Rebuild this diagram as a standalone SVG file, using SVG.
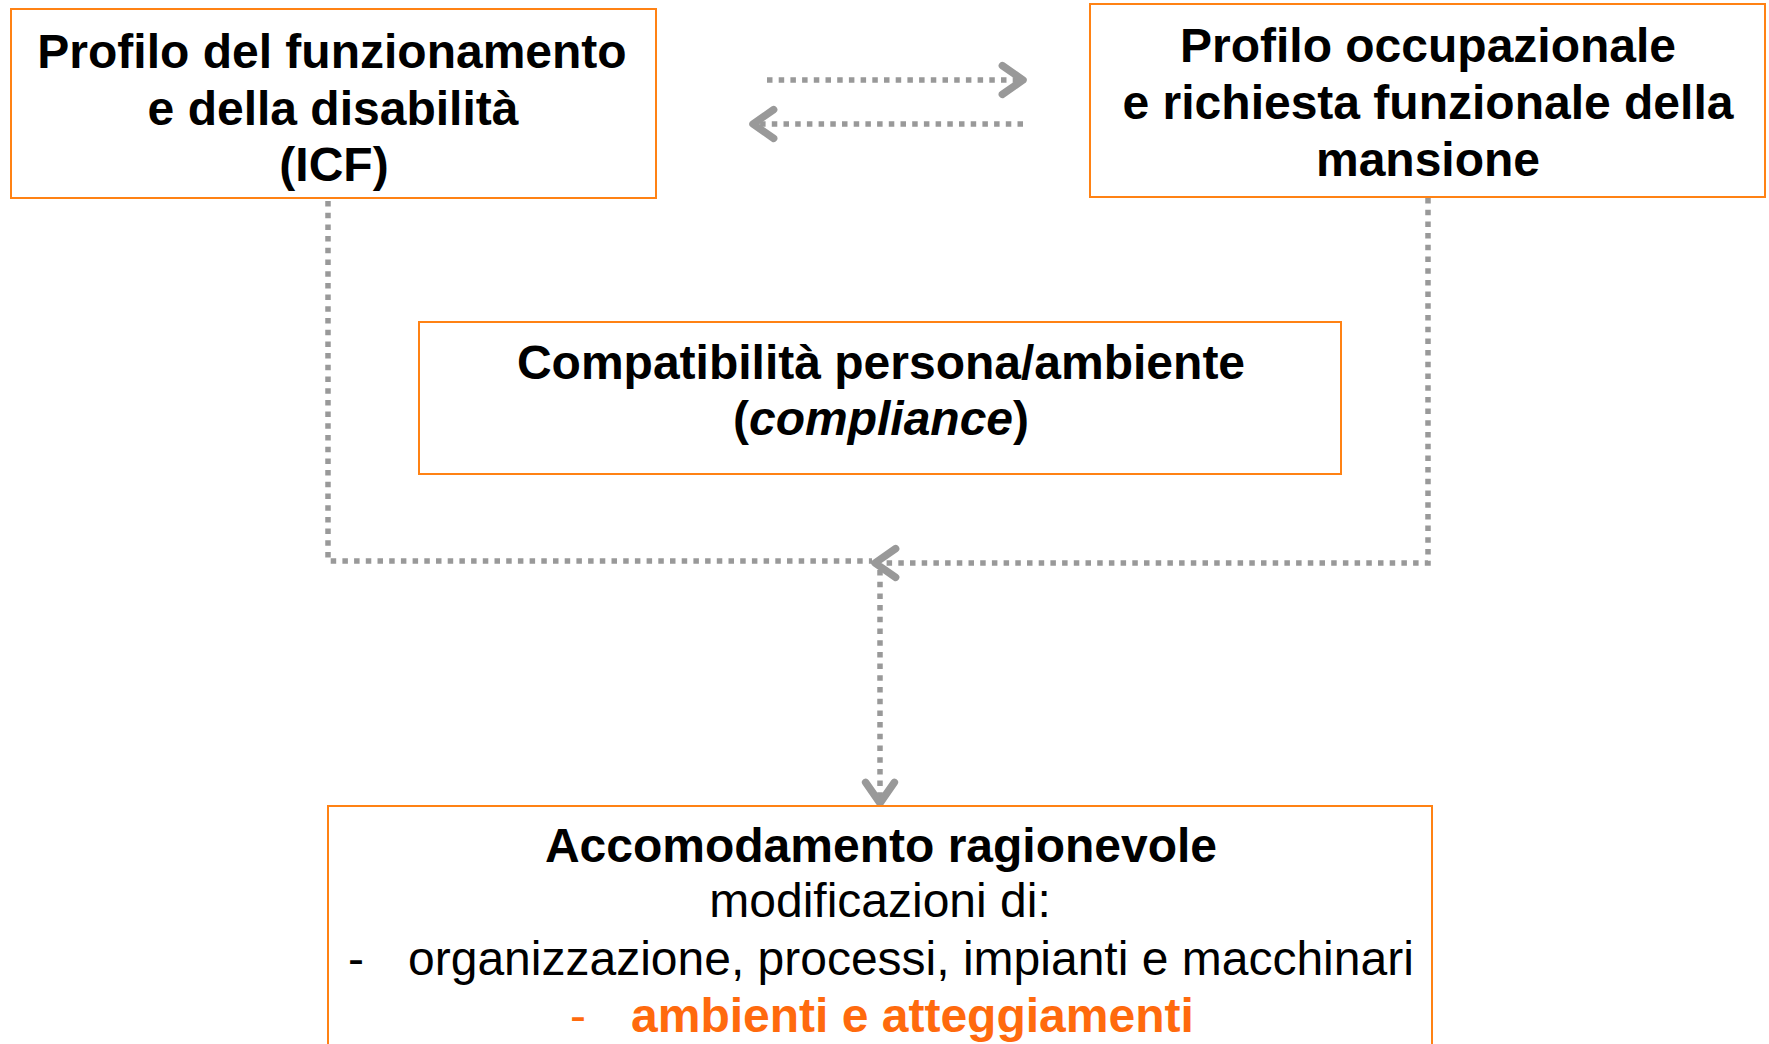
<svg xmlns="http://www.w3.org/2000/svg" width="1769" height="1044" viewBox="0 0 1769 1044">
  <style>
    .box { fill: #ffffff; stroke: #FF8214; stroke-width: 2; }
    .t { font-family: "Liberation Sans", Arial, sans-serif; font-size: 48px; fill: #000000; }
    .b { font-weight: bold; }
    .c { text-anchor: middle; }
    .or { fill: #FF6A0D; }
    .conn { fill: none; stroke: #999999; stroke-width: 5.5; stroke-dasharray: 5.5 6.2; }
  </style>
  <defs>
    <marker id="chev" markerUnits="userSpaceOnUse" markerWidth="40" markerHeight="40" refX="0" refY="0" viewBox="-22 -16 26 32" orient="auto" overflow="visible">
      <path d="M -16.5 -11.5 L 0 0 L -16.5 11.5" fill="none" stroke="#999999" stroke-width="6" stroke-linecap="round" stroke-linejoin="round"/>
    </marker>
  </defs>
  <rect width="1769" height="1044" fill="#ffffff"/>

  <g id="connectors">
    <path class="conn" d="M 767 80 H 1023" marker-end="url(#chev)"/>
    <path class="conn" d="M 1023 124 H 753" marker-end="url(#chev)"/>
    <path class="conn" d="M 328 201 V 561 H 872"/>
    <path class="conn" d="M 1428 198 V 563 H 875" marker-end="url(#chev)"/>
    <path class="conn" d="M 880 570 V 803" marker-end="url(#chev)"/>
  </g>

  <g id="node-icf">
    <rect class="box" x="11" y="9" width="645" height="189"/>
    <text class="t b c" x="332" y="68">Profilo del funzionamento</text>
    <text class="t b c" x="333" y="124.5">e della disabilità</text>
    <text class="t b c" x="334" y="181">(ICF)</text>
  </g>

  <g id="node-profilo-occupazionale">
    <rect class="box" x="1090" y="4" width="675" height="193"/>
    <text class="t b c" x="1428" y="62">Profilo occupazionale</text>
    <text class="t b c" x="1428" y="119">e richiesta funzionale della</text>
    <text class="t b c" x="1428" y="176">mansione</text>
  </g>

  <g id="node-compatibilita">
    <rect class="box" x="419" y="322" width="922" height="152"/>
    <text class="t b c" x="881" y="379">Compatibilità persona/ambiente</text>
    <text class="t b c" x="881" y="435">(<tspan font-style="italic">compliance</tspan>)</text>
  </g>

  <g id="node-accomodamento">
    <rect class="box" x="328" y="806" width="1104" height="260"/>
    <text class="t b c" x="881" y="862">Accomodamento ragionevole</text>
    <text class="t c" x="880" y="917">modificazioni di:</text>
    <text class="t" x="348" y="975">-</text>
    <text class="t" x="408" y="975">organizzazione, processi, impianti e macchinari</text>
    <text class="t or" x="570" y="1032">-</text>
    <text class="t b or" x="631" y="1032">ambienti e atteggiamenti</text>
  </g>
</svg>
